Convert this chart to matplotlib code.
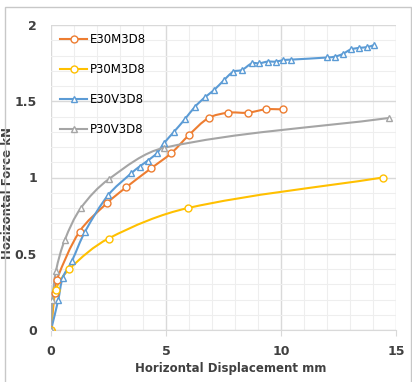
import matplotlib
matplotlib.use("Agg")
import matplotlib.pyplot as plt
import numpy as np
from matplotlib.path import Path
from matplotlib.patches import PathPatch, Rectangle
from matplotlib.ticker import MultipleLocator

# Data
e30m3d8_x = [0, 0.16, 0.25, 1.24, 2.42, 3.26, 4.35, 5.23, 6.01, 6.85, 7.71, 8.55, 9.35, 10.1]
e30m3d8_y = [0, 0.24, 0.33, 0.645, 0.83, 0.935, 1.06, 1.16, 1.28, 1.39, 1.425, 1.425, 1.447, 1.447]

p30m3d8_x = [0, 0.2, 0.8, 2.5, 5.96, 14.43]
p30m3d8_y = [0, 0.26, 0.40, 0.60, 0.80, 1.0]

e30v3d8_x = [0, 0.32, 0.51, 0.9, 1.48, 2.49, 3.49, 3.85, 4.2, 4.6, 4.93, 5.35, 5.83, 6.26,
             6.7, 7.1, 7.53, 7.93, 8.3, 8.74, 9.06, 9.42, 9.78, 10.1, 10.44, 12.02, 12.36,
             12.68, 13.04, 13.4, 13.74, 14.06]
e30v3d8_y = [0, 0.2, 0.343, 0.45, 0.645, 0.885, 1.028, 1.072, 1.11, 1.159, 1.228, 1.3, 1.384,
             1.464, 1.527, 1.575, 1.64, 1.694, 1.705, 1.749, 1.749, 1.76, 1.76, 1.77, 1.773,
             1.787, 1.793, 1.81, 1.84, 1.85, 1.855, 1.869]

p30v3d8_x = [0, 0.06, 0.22, 0.6, 1.3, 2.52, 4.92, 14.68]
p30v3d8_y = [0, 0.2, 0.39, 0.59, 0.8, 0.99, 1.195, 1.39]

series = [
    ("E30M3D8", e30m3d8_x, e30m3d8_y, "#ED7D31", "o"),
    ("P30M3D8", p30m3d8_x, p30m3d8_y, "#FFC000", "o"),
    ("E30V3D8", e30v3d8_x, e30v3d8_y, "#5B9BD5", "^"),
    ("P30V3D8", p30v3d8_x, p30v3d8_y, "#A5A5A5", "^"),
]

# rough pixel scale of the axes, used only so the smoothing is aspect aware
SX, SY = 23.0, 152.5


def smooth_path(x, y):
    # smoothed line like Excel: Bezier segments, tangent direction from the
    # neighbours, tangent length a third of the segment chord
    pts = np.column_stack([np.asarray(x) * SX, np.asarray(y) * SY]).astype(float)
    n = len(pts)
    verts = [pts[0]]
    codes = [Path.MOVETO]
    for i in range(n - 1):
        p0 = pts[i - 1] if i > 0 else pts[i]
        p1 = pts[i]
        p2 = pts[i + 1]
        p3 = pts[i + 2] if i + 2 < n else pts[i + 1]
        chord = np.linalg.norm(p2 - p1)
        t1 = p2 - p0
        t2 = p3 - p1
        t1 = t1 / (np.linalg.norm(t1) or 1.0)
        t2 = t2 / (np.linalg.norm(t2) or 1.0)
        c1 = p1 + t1 * chord / 3.0
        c2 = p2 - t2 * chord / 3.0
        verts += [c1, c2, p2]
        codes += [Path.CURVE4] * 3
    verts = np.array(verts) / [SX, SY]
    return Path(verts, codes)


fig = plt.figure(figsize=(4.12, 3.82), dpi=100)
ax = fig.add_axes([51 / 412, 52 / 382, 345 / 412, 305 / 382])

# light frame around the chart
fig.patches.append(Rectangle((5 / 412, -0.01), 406 / 412, (375 / 382) + 0.01,
                             transform=fig.transFigure, fill=False,
                             edgecolor="#c8c8c8", lw=1.0))

for name, xs, ys, color, mk in series:
    ax.add_patch(PathPatch(smooth_path(xs, ys), facecolor="none", edgecolor=color,
                           lw=1.5, zorder=3))
    ax.plot(xs, ys, linestyle="none", marker=mk, markersize=5,
            markerfacecolor="white", markeredgecolor=color, markeredgewidth=1.0,
            zorder=4)

handles = [plt.Line2D([], [], color=c, lw=1.5, marker=m, markersize=5,
                      markerfacecolor="white", markeredgecolor=c)
           for _, _, _, c, m in series]
labels = [s[0] for s in series]
ax.legend(handles, labels, loc="upper left", frameon=False,
          bbox_to_anchor=(60 / 412, (382 - 33) / 382), bbox_transform=fig.transFigure,
          borderpad=0, borderaxespad=0, handlelength=2.3, handletextpad=0.2,
          labelspacing=1.45, prop={"size": 8.5})

ax.set_xlim(0, 15)
ax.set_ylim(0, 2)
ax.xaxis.set_major_locator(MultipleLocator(5))
ax.xaxis.set_minor_locator(MultipleLocator(1))
ax.yaxis.set_major_locator(MultipleLocator(0.5))
ax.yaxis.set_minor_locator(MultipleLocator(0.1))
ax.yaxis.set_major_formatter(plt.FuncFormatter(lambda v, p: f"{v:g}"))

ax.grid(which="major", color="#d9d9d9", lw=1.0, zorder=0)
ax.grid(which="minor", color="#eeeeee", lw=0.8, zorder=0)
ax.set_axisbelow(True)

for s in ["top", "right", "left"]:
    ax.spines[s].set_visible(False)
ax.spines["bottom"].set_color("#d9d9d9")

ax.tick_params(axis="x", which="major", length=4, color="#d9d9d9", pad=7)
ax.tick_params(axis="x", which="minor", length=0)
ax.tick_params(axis="y", which="both", length=0, pad=10)
for lbl in ax.get_xticklabels() + ax.get_yticklabels():
    lbl.set_fontsize(9)
    lbl.set_fontweight("bold")
    lbl.set_color("#404040")

ax.set_xlabel("Horizontal Displacement mm", fontsize=8.5, fontweight="bold", color="#404040")
ax.set_ylabel("Hozizontal Force kN", fontsize=8.5, fontweight="bold", color="#404040")
ax.xaxis.set_label_coords(0.52, -0.105)
ax.yaxis.set_label_coords(-0.108, 0.45)

fig.savefig("out.png", dpi=100)
